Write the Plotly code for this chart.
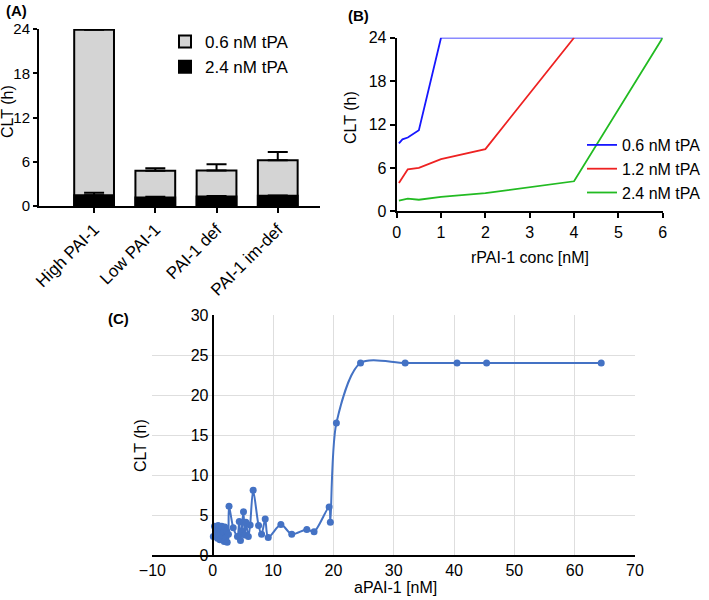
import plotly.graph_objects as go

W, H = 709, 600
FONT = "Arial, Liberation Sans, Helvetica, sans-serif"

# ---------------- Panel A data ----------------
a_categories = ["High PAI-1", "Low PAI-1", "PAI-1 def", "PAI-1 im-def"]
a_tpa06 = [23.9, 4.78, 4.8, 6.2]
a_tpa06_err = [0.0, 0.35, 0.85, 1.13]
a_tpa24 = [1.47, 1.15, 1.3, 1.38]
a_tpa24_err = [0.33, 0.1, 0.05, 0.05]
a_yticks = [0, 6, 12, 18, 24]

# ---------------- Panel B data ----------------
b_x06 = [0.05, 0.13, 0.25, 0.5, 1.0, 6.0]
b_y06 = [9.4, 9.95, 10.2, 11.2, 24.0, 24.0]
b_x12 = [0.05, 0.25, 0.5, 1.0, 2.0, 4.0]
b_y12 = [3.9, 5.8, 6.0, 7.2, 8.6, 24.0]
b_x24 = [0.05, 0.25, 0.5, 1.0, 2.0, 4.0, 6.0]
b_y24 = [1.47, 1.75, 1.6, 2.0, 2.5, 4.15, 24.0]
b_xticks = [0, 1, 2, 3, 4, 5, 6]
b_yticks = [0, 6, 12, 18, 24]

# ---------------- Panel C data ----------------
c_x = [0.1, 0.3, 0.5, 0.6, 0.8, 0.9, 1.0, 1.2, 1.3, 1.5, 1.6, 1.8, 1.9, 2.0,
       2.2, 2.3, 2.4, 2.6, 2.7, 3.4, 4.1, 4.4, 4.6, 4.8, 4.9, 5.1, 5.3, 5.5,
       5.9, 6.2, 6.7, 7.6, 8.1, 8.7, 9.2, 11.3, 13.1, 15.6, 16.8, 19.3, 19.5,
       20.5, 24.5, 31.9, 40.5, 45.4, 64.4]
c_y = [2.3, 3.6, 2.8, 3.4, 2.1, 3.7, 2.6, 1.9, 3.2, 3.6, 2.4, 2.9, 1.7, 3.5,
       2.2, 3.0, 1.6, 2.6, 6.1, 3.4, 2.3, 4.2, 1.8, 3.0, 4.1, 5.4, 2.5, 4.1,
       2.3, 3.75, 8.1, 3.7, 2.6, 4.5, 2.2, 3.8, 2.6, 3.2, 2.9, 6.0, 4.1,
       16.5, 24.0, 24.0, 24.0, 24.0, 24.0]


def px_x(p):
    return p / W


def px_y(p):
    return 1 - p / H


fig = go.Figure()

# Panel A bars
fig.add_trace(go.Bar(
    x=a_categories, y=a_tpa06, name="0.6 nM tPA",
    marker=dict(color="#d4d4d4", line=dict(color="black", width=2)),
    width=0.65,
    error_y=dict(type="data", symmetric=False, array=a_tpa06_err,
                 arrayminus=[0] * 4, color="black", thickness=2, width=10),
    xaxis="x", yaxis="y", legend="legend",
))
fig.add_trace(go.Bar(
    x=a_categories, y=a_tpa24, name="2.4 nM tPA",
    marker=dict(color="black", line=dict(color="black", width=2)),
    width=0.65,
    error_y=dict(type="data", symmetric=False, array=a_tpa24_err,
                 arrayminus=[0] * 4, color="black", thickness=2, width=10),
    xaxis="x", yaxis="y", legend="legend",
))

# Panel B lines
for xs, ys, nm, col in [(b_x06, b_y06, "0.6 nM tPA", "#1717ff"),
                        (b_x12, b_y12, "1.2 nM tPA", "#ee2222"),
                        (b_x24, b_y24, "2.4 nM tPA", "#22bb22")]:
    fig.add_trace(go.Scatter(x=xs, y=ys, mode="lines", name=nm,
                             line=dict(color=col, width=1.8),
                             xaxis="x2", yaxis="y2", legend="legend2"))

# Panel C
fig.add_trace(go.Scatter(
    x=c_x, y=c_y, mode="lines+markers", showlegend=False,
    line=dict(color="#4472C4", width=2, shape="spline", smoothing=0.8),
    marker=dict(color="#4472C4", size=7),
    xaxis="x3", yaxis="y3",
))

axis_common = dict(showline=True, linecolor="black", linewidth=2,
                   ticks="outside", ticklen=5, tickwidth=2, tickcolor="black",
                   showgrid=False, zeroline=False, automargin=False,
                   tickfont=dict(family=FONT, size=16, color="black"))

c_x0 = 152.4
c_x1 = 635.0
c_yaxis_px = c_x0 + (c_x1 - c_x0) * 10 / 80

fig.update_layout(
    width=W, height=H, autosize=False,
    margin=dict(l=0, r=0, t=0, b=0, pad=0, autoexpand=False),
    paper_bgcolor="white", plot_bgcolor="rgba(0,0,0,0)",
    font=dict(family=FONT, color="black"),
    barmode="overlay",
    xaxis=dict(domain=[px_x(39), px_x(320)], range=[-0.9, 3.69],
               tickangle=-45, anchor="y",
               **{**axis_common, "tickfont": dict(family=FONT, size=17, color="black")}),
    yaxis=dict(domain=[px_y(206), px_y(29)], range=[0, 24], tickvals=a_yticks,
               anchor="x", **{**axis_common, "ticklen": 4,
                              "tickfont": dict(family=FONT, size=15, color="black")}),
    xaxis2=dict(domain=[px_x(396.7), px_x(662.7)], range=[0, 6],
                tickvals=b_xticks, anchor="y2", **axis_common),
    yaxis2=dict(domain=[px_y(211.3), px_y(37.7)], range=[0, 24],
                tickvals=b_yticks, anchor="x2", **axis_common),
    xaxis3=dict(domain=[px_x(c_x0), px_x(c_x1)], range=[-10, 70], dtick=10,
                anchor="y3", showline=True, linecolor="black", linewidth=2,
                ticks="", showgrid=True, gridcolor="#dedede", gridwidth=1,
                zeroline=False, automargin=False,
                tickfont=dict(family=FONT, size=16, color="black")),
    yaxis3=dict(domain=[px_y(555), px_y(315)], range=[0, 30], dtick=5,
                anchor="free", position=px_x(c_yaxis_px),
                showline=True, linecolor="black", linewidth=2,
                ticks="", showgrid=True, gridcolor="#dedede", gridwidth=1,
                zeroline=False, automargin=False,
                tickfont=dict(family=FONT, size=16, color="black")),
    legend=dict(x=px_x(165), y=px_y(24), xanchor="left", yanchor="top",
                bgcolor="rgba(0,0,0,0)", font=dict(family=FONT, size=17),
                tracegroupgap=0),
    legend2=dict(x=px_x(582), y=px_y(128), xanchor="left", yanchor="top",
                 bgcolor="rgba(0,0,0,0)", font=dict(family=FONT, size=16)),
)

annots = [
    dict(text="<b>(A)</b>", x=px_x(4), y=px_y(11), xanchor="left", yanchor="middle", size=15),
    dict(text="<b>(B)</b>", x=px_x(346), y=px_y(16), xanchor="left", yanchor="middle", size=15),
    dict(text="<b>(C)</b>", x=px_x(106), y=px_y(318), xanchor="left", yanchor="middle", size=15),
    dict(text="CLT (h)", x=px_x(8), y=px_y(112), xanchor="center", yanchor="middle", size=16, angle=-90),
    dict(text="CLT (h)", x=px_x(350), y=px_y(118), xanchor="center", yanchor="middle", size=16, angle=-90),
    dict(text="rPAI-1 conc [nM]", x=px_x(530), y=px_y(257), xanchor="center", yanchor="middle", size=16),
    dict(text="CLT (h)", x=px_x(140), y=px_y(446), xanchor="center", yanchor="middle", size=16, angle=-90),
    dict(text="aPAI-1 [nM]", x=px_x(395), y=px_y(587), xanchor="center", yanchor="middle", size=16),
]
for a in annots:
    fig.add_annotation(text=a["text"], x=a["x"], y=a["y"], xref="paper", yref="paper",
                       xanchor=a["xanchor"], yanchor=a["yanchor"], showarrow=False,
                       textangle=a.get("angle", 0),
                       font=dict(family=FONT, size=a["size"], color="black"))

fig.write_html("out.html", config={"displayModeBar": False},
               post_script="document.body.style.margin='0';document.body.style.padding='0';")
